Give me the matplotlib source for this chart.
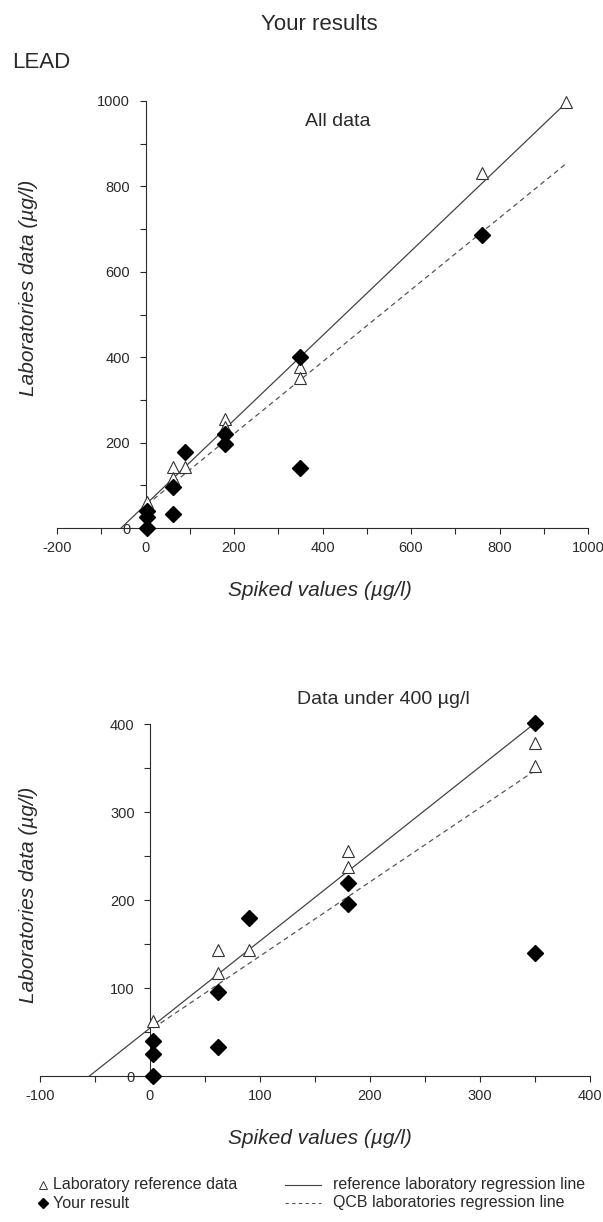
"""Lead interlaboratory study: your results vs reference labs."""
import numpy as np
import matplotlib
matplotlib.use("Agg")
import matplotlib.pyplot as plt
from matplotlib.ticker import MultipleLocator

plt.rcParams["font.family"] = ["Liberation Sans", "DejaVu Sans"]
plt.rcParams["axes.unicode_minus"] = False
INK = "#2a2a2a"

# laboratory reference data (open triangles)
ref_x = [3, 62, 62, 90, 180, 180, 350, 350, 760, 950]
ref_y = [62, 143, 117, 143, 256, 237, 378, 352, 832, 998]
# your result (filled diamonds)
you_x = [3, 3, 3, 62, 62, 90, 180, 180, 350, 350, 760]
you_y = [0, 25, 40, 33, 96, 179, 219, 196, 401, 140, 686]
# regression lines: intercept, slope
ref_a, ref_b = 54.5, 0.99
qcb_a, qcb_b = 52.0, 0.843

fig = plt.figure(figsize=(6.03, 12.22), dpi=100)
W, H = 603, 1222


def panel(rect, xlim, ylim, xmaj, ymaj, xmax, title, title_xy):
    ax = fig.add_axes(rect)
    ax.set_xlim(*xlim); ax.set_ylim(*ylim)
    for s in ("top", "right"):
        ax.spines[s].set_visible(False)
    ax.spines["left"].set_position(("data", 0))
    ax.spines["bottom"].set_position(("data", 0))
    for s in ("left", "bottom"):
        ax.spines[s].set_color(INK); ax.spines[s].set_linewidth(0.8)
    ax.xaxis.set_major_locator(MultipleLocator(xmaj))
    ax.xaxis.set_minor_locator(MultipleLocator(xmaj / 2))
    ax.yaxis.set_major_locator(MultipleLocator(ymaj))
    ax.yaxis.set_minor_locator(MultipleLocator(ymaj / 2))
    ax.tick_params(which="both", direction="out", length=4, width=0.8,
                   color=INK, labelsize=10.5, labelcolor=INK)
    ax.tick_params(axis="y", pad=7)
    ax.tick_params(axis="x", pad=5)

    m = [i for i, x in enumerate(ref_x) if x <= xmax]
    n = [i for i, x in enumerate(you_x) if x <= xmax]
    x0 = -ref_a / ref_b
    xe = max(ref_x[i] for i in m)
    ax.plot([x0, xe], [0, ref_a + ref_b * xe], color="#444444", lw=0.9,
            clip_on=False)
    xs = min(ref_x)
    ax.plot([xs, xe], [qcb_a + qcb_b * xs, qcb_a + qcb_b * xe],
            color="#555555", lw=0.9, ls=(0, (4, 3)), clip_on=False)
    ax.plot([ref_x[i] for i in m], [ref_y[i] for i in m], ls="none",
            marker="^", ms=8.5, mfc="white", mec="#333333", mew=0.8,
            clip_on=False, zorder=3)
    ax.plot([you_x[i] for i in n], [you_y[i] for i in n], ls="none",
            marker="D", ms=8.5, mfc="black", mec="black", clip_on=False,
            zorder=4)
    fig.text(title_xy[0] / W, 1 - title_xy[1] / H, title, ha="center",
             va="center", fontsize=14, color=INK)
    return ax


ax1 = panel([57 / W, 1 - 528 / H, 531 / W, 427 / H], (-200, 1000), (0, 1000),
            200, 200, 1000, "All data", (338, 122))
ax2 = panel([40 / W, 1 - 1076 / H, 550 / W, 352 / H], (-100, 400), (0, 400),
            100, 100, 400, "Data under 400 \u00b5g/l", (383, 700))

fig.text(319 / W, 1 - 24 / H, "Your results", ha="center", va="center",
         fontsize=16, color=INK)
fig.text(12 / W, 1 - 62 / H, "LEAD", ha="left", va="center", fontsize=16,
         color=INK)

for yc in (288, 895):
    fig.text(29 / W, 1 - yc / H, "Laboratories data (\u00b5g/l)", rotation=90,
             ha="center", va="center", fontsize=15, style="italic", color=INK)
for yc in (590, 1138):
    fig.text(320 / W, 1 - yc / H, "Spiked values (\u00b5g/l)", ha="center",
             va="center", fontsize=15, style="italic", color=INK)

# legend
r1, r2 = 1 - 1185 / H, 1 - 1203 / H
fig.lines.append(plt.Line2D([43 / W], [r1], marker="^", ms=6, mfc="white",
                            mec="#333333", mew=0.7, transform=fig.transFigure))
fig.lines.append(plt.Line2D([43 / W], [r2], marker="D", ms=5.5, mfc="black",
                            mec="black", transform=fig.transFigure))
fig.lines.append(plt.Line2D([285 / W, 321 / W], [r1, r1], color="#444444",
                            lw=0.8, transform=fig.transFigure))
fig.lines.append(plt.Line2D([285 / W, 321 / W], [r2, r2], color="#555555",
                            lw=0.8, ls=(0, (3, 3)), transform=fig.transFigure))
for txt, x, y in [("Laboratory reference data", 53, r1), ("Your result", 53, r2),
                  ("reference laboratory regression line", 333, r1),
                  ("QCB laboratories regression line", 333, r2)]:
    fig.text(x / W, y, txt, ha="left", va="center", fontsize=11.5, color=INK)

fig.savefig("out.png", dpi=100)
